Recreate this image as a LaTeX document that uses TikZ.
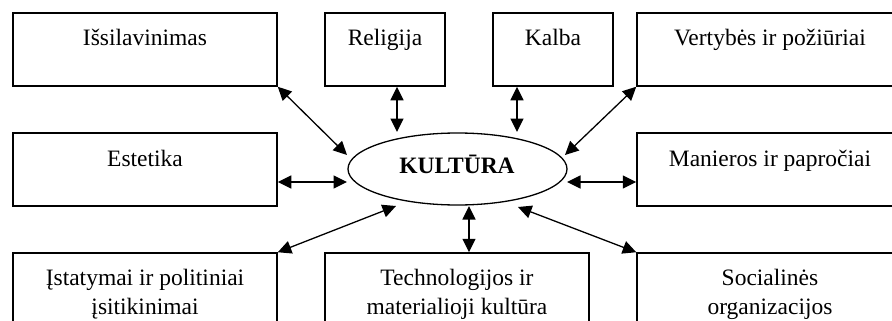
\documentclass[tikz,border=0pt]{standalone}
\usepackage{fontspec}
\setmainfont{Liberation Serif}
\usetikzlibrary{arrows.meta,shapes.geometric,calc}
\begin{document}
\begin{tikzpicture}[x=1pt,y=-1pt,
  box/.style={draw,line width=1.5pt,rectangle,minimum height=73pt,inner sep=0pt},
  wbox/.style={box,minimum width=264pt},
  nbox/.style={box,minimum width=120pt},
  rbox/.style={box,minimum width=266pt},
  txt/.style={anchor=base,inner sep=0pt,font=\fontsize{23.5}{28}\selectfont},
  arr/.style={line width=1.3pt,{Triangle[length=13.5pt,width=13pt]}-{Triangle[length=13.5pt,width=13pt]}}
]
\useasboundingbox (0,0) rectangle (892,321);
\clip (0,0) rectangle (892,321);
% boxes
\node[wbox] (edu) at (145,49.5) {};
\node[nbox] (rel) at (385,49.5) {};
\node[nbox] (kal) at (553,49.5) {};
\node[rbox] (ver) at (770,49.5) {};
\node[wbox] (est) at (145,169.5) {};
\node[rbox] (man) at (770,169.5) {};
\node[wbox] (ist) at (145,289.5) {};
\node[wbox] (tech) at (457,289.5) {};
\node[rbox] (soc) at (770,289.5) {};
% ellipse
\node[draw,ellipse,line width=1.3pt,minimum width=219pt,minimum height=72pt,inner sep=0pt] (kul) at (457.5,169) {};
% texts
\node[txt] (tedu) at (145,46) {Išsilavinimas};
\node[txt] (trel) at (385,46) {Religija};
\node[txt] (tkal) at (553,46) {Kalba};
\node[txt] (tver) at (770,46) {Vertybės ir požiūriai};
\node[txt] (test) at (145,166) {Estetika};
\node[txt] (tman) at (770,166) {Manieros ir papročiai};
\node[txt] (tist1) at (145,285) {Įstatymai ir politiniai};
\node[txt] (tist2) at (145,314.5) {įsitikinimai};
\node[txt] (ttech1) at (457,285) {Technologijos ir};
\node[txt] (ttech2) at (457,314.5) {materialioji kultūra};
\node[txt] (tsoc1) at (770,285) {Socialinės};
\node[txt] (tsoc2) at (770,314.5) {organizacijos};
\node[txt,font=\fontsize{23.5}{28}\selectfont\bfseries] (tkul) at (457,173) {KULTŪRA};
% connector end points near the ellipse
\coordinate (k1) at (347,155);
\coordinate (k2) at (397,132);
\coordinate (k3) at (517,132);
\coordinate (k4) at (565,155);
\coordinate (k5) at (347,182);
\coordinate (k6) at (567,182);
\coordinate (k7) at (396,206);
\coordinate (k8) at (469,206);
\coordinate (k9) at (518,207);
% connectors
\draw[arr] (edu.south east) -- (k1);
\draw[arr] (rel.south -| k2) -- (k2);
\draw[arr] (kal.south -| k3) -- (k3);
\draw[arr] (ver.south west) -- (k4);
\draw[arr] (est.east |- k5) -- (k5);
\draw[arr] (k6) -- (man.west |- k6);
\draw[arr] (ist.north east) -- (k7);
\draw[arr] (k8) -- (tech.north -| k8);
\draw[arr] (k9) -- (soc.north west);
\end{tikzpicture}
\end{document}
